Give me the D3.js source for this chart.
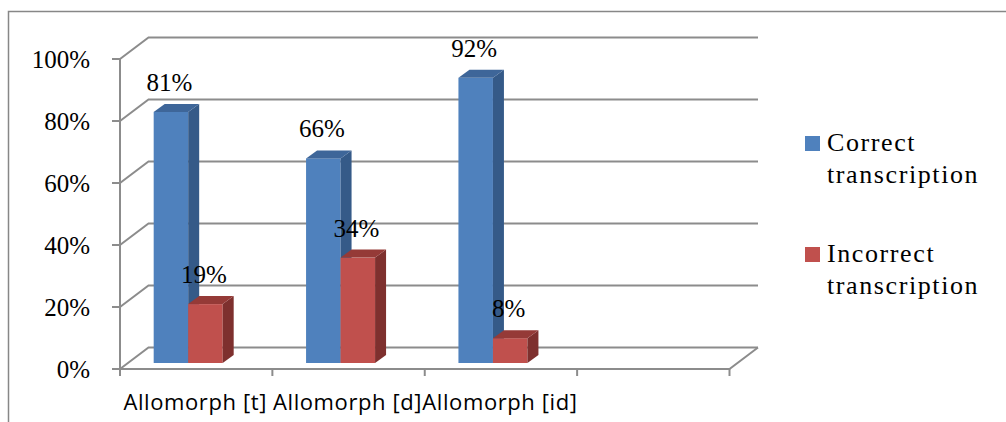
<!DOCTYPE html>
<html>
<head>
<meta charset="utf-8">
<script src="https://cdn.jsdelivr.net/npm/d3@7"></script>
<style>
  html, body { margin: 0; padding: 0; background: #fff; }
  svg { display: block; }
  .serif { font-family: "Liberation Serif", "DejaVu Serif", serif; }
  .sans { font-family: "Open Sans", "Noto Sans", sans-serif; }
</style>
</head>
<body>
<svg id="chart" width="1006" height="422"></svg>
<script>
// Categories and values (share of transcriptions)
const categories = ["Allomorph [t]", "Allomorph [d]", "Allomorph [id]"];
const correctValues = [0.81, 0.66, 0.92];
const incorrectValues = [0.19, 0.34, 0.08];
const seriesNames = ["Correct transcription", "Incorrect transcription"];
const yTickValues = [0, 0.2, 0.4, 0.6, 0.8, 1.0];

const series = [
  { name: seriesNames[0], values: correctValues, front: "#4F81BD", side: "#355A88", top: "#3E6699" },
  { name: seriesNames[1], values: incorrectValues, front: "#C0504D", side: "#7E302E", top: "#953A37" }
];

const svg = d3.select("#chart");
const gridColor = "#8C8C8C";

// Outer chart frame (top and left edges)
svg.append("path")
  .attr("d", "M8.5,422 V11.5 H1006")
  .attr("fill", "none").attr("stroke", "#878787").attr("stroke-width", 1.5);

// Category slots: the plot area holds one extra empty slot after the data
const slots = categories.concat([""]);
const x = d3.scaleBand().domain(slots).range([120, 729.5]).paddingInner(0).paddingOuter(0);
const y = d3.scaleLinear().domain([0, 1]).range([369, 59]);

// Oblique depth of the box (back wall offset) and of the bar plane
const wallDx = 28.5, wallDy = -21.5;
const barPlaneDy = -6;
const barDx = 11, barDy = -8;
const yBar = v => y(v) + barPlaneDy;

const grid = svg.append("g").attr("stroke", gridColor).attr("stroke-width", 2).attr("fill", "none");

// Back-wall gridlines with their left-wall diagonals
yTickValues.forEach(v => {
  const yf = y(v), yb = y(v) + wallDy;
  grid.append("path")
    .attr("d", `M${x.range()[0]},${yf} L${x.range()[0] + wallDx},${yb} H${x.range()[1] + wallDx}`);
});

// Floor edges
grid.append("path")
  .attr("d", `M${x.range()[0]},${y(0)} H${x.range()[1]} L${x.range()[1] + wallDx},${y(0) + wallDy}`);

// Value axis line and ticks
grid.append("line")
  .attr("x1", x.range()[0]).attr("x2", x.range()[0])
  .attr("y1", y(1)).attr("y2", y(0));
yTickValues.forEach(v => {
  grid.append("line")
    .attr("x1", x.range()[0] - 8).attr("x2", x.range()[0])
    .attr("y1", y(v)).attr("y2", y(v));
});

// Category ticks at slot boundaries
const boundaries = slots.map(s => x(s)).concat([x.range()[1]]);
boundaries.forEach(bx => {
  grid.append("line")
    .attr("x1", bx).attr("x2", bx)
    .attr("y1", y(0)).attr("y2", y(0) + 7);
});

// Value axis labels
svg.append("g").selectAll("text")
  .data(yTickValues).join("text")
  .attr("class", "serif")
  .attr("x", 90).attr("y", d => y(d))
  .attr("dy", "0.35em")
  .attr("text-anchor", "end")
  .attr("font-size", 25)
  .attr("fill", "#000")
  .text(d => d3.format(".0%")(d));

// Category labels
svg.append("g").selectAll("text")
  .data(categories).join("text")
  .attr("class", "sans")
  .attr("x", d => x(d) + x.bandwidth() / 2 - 1)
  .attr("y", 410)
  .attr("text-anchor", "middle")
  .attr("font-size", 22)
  .attr("letter-spacing", 0.6)
  .attr("fill", "#000")
  .text(d => d);

// 3D bars
const barW = 34.5;
const groupShift = -8;
const bars = svg.append("g");
series.forEach((s, si) => {
  s.values.forEach((v, i) => {
    const cx = x(categories[i]) + x.bandwidth() / 2 + groupShift;
    const x0 = cx - barW + si * barW, x1 = x0 + barW;
    const yt = yBar(v), y0 = yBar(0);
    const g = bars.append("g");
    g.append("rect")
      .attr("x", x0).attr("y", yt).attr("width", barW).attr("height", y0 - yt)
      .attr("fill", s.front);
    g.append("path")
      .attr("d", `M${x1},${yt} L${x1 + barDx},${yt + barDy} L${x1 + barDx},${y0 + barDy} L${x1},${y0} Z`)
      .attr("fill", s.side);
    g.append("path")
      .attr("d", `M${x0},${yt} L${x0 + barDx},${yt + barDy} L${x1 + barDx},${yt + barDy} L${x1},${yt} Z`)
      .attr("fill", s.top);
  });
});

// Value labels above each bar
const labels = svg.append("g");
series.forEach((s, si) => {
  s.values.forEach((v, i) => {
    const cx = x(categories[i]) + x.bandwidth() / 2 + groupShift;
    const x0 = cx - barW + si * barW;
    labels.append("text")
      .attr("class", "serif")
      .attr("x", x0 + barW / 2 - 1.5)
      .attr("y", yBar(v) - 21)
      .attr("text-anchor", "middle")
      .attr("font-size", 25)
      .attr("fill", "#000")
      .text(d3.format(".0%")(v));
  });
});

// Legend
const legend = svg.append("g");
const legendTop = [136, 247];
series.forEach((s, si) => {
  const ly = legendTop[si];
  legend.append("rect")
    .attr("x", 805).attr("y", ly).attr("width", 15).attr("height", 15)
    .attr("fill", s.front);
  const words = s.name.split(" ");
  const t = legend.append("text")
    .attr("class", "serif")
    .attr("font-size", 26)
    .attr("letter-spacing", 1.6)
    .attr("fill", "#000");
  words.forEach((w, wi) => {
    t.append("tspan").attr("x", 827).attr("y", ly + 15 + wi * 32).text(w);
  });
});
</script>
</body>
</html>
